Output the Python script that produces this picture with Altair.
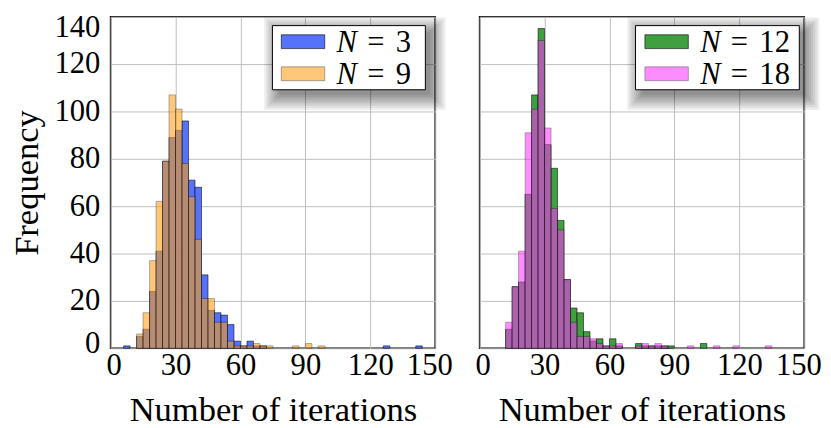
import altair as alt
import pandas as pd

# ---------------- data (counts per bin of width 3, bins start at 0) ----------------
bin_width = 3
n3 = [0, 0, 1, 0, 5, 8, 24, 41, 79, 89, 92, 96, 71, 68, 31, 16, 15, 14, 10, 3,
      1, 3, 1, 1, 0, 0, 0, 0, 0, 0, 0, 0, 0, 0, 0, 0, 0, 0, 0, 0,
      0, 0, 1, 0, 0, 0, 0, 1, 0, 0]
n9 = [0, 0, 0, 0, 6, 15, 37, 62, 79, 107, 101, 78, 64, 46, 21, 21, 11, 11, 3, 1,
      1, 1, 2, 1, 1, 0, 0, 0, 1, 0, 2, 0, 1, 0, 0, 0, 0, 0, 0, 0,
      0, 0, 0, 0, 0, 0, 0, 0, 0, 0]
n12 = [0, 0, 0, 0, 8, 26, 28, 65, 107, 135, 86, 76, 54, 29, 17, 15, 7, 3, 4, 1,
       4, 1, 0, 0, 2, 1, 1, 1, 1, 1, 0, 0, 0, 0, 2, 0, 0, 0, 0, 0,
       0, 0, 0, 0, 0, 0, 0, 0, 0, 0]
n18 = [0, 0, 0, 0, 11, 26, 41, 91, 101, 130, 93, 59, 50, 29, 11, 5, 5, 4, 2, 1,
       1, 2, 0, 0, 1, 2, 1, 2, 1, 0, 0, 0, 1, 0, 0, 0, 1, 0, 0, 1,
       0, 0, 0, 0, 1, 0, 0, 0, 0, 0]

left_names = ["3", "9"]
right_names = ["12", "18"]
x_ticks = [0, 30, 60, 90, 120, 150]
y_ticks = [0, 20, 40, 60, 80, 100, 120, 140]

# ---------------- styles ----------------
FONT = "Liberation Serif"
W, H = 329, 336
left_colors = ["#5572fa", "#ffa016"]
left_opac = [1.0, 0.58]
right_colors = ["#3ea03e", "#ff33ff"]
right_opac = [1.0, 0.56]


def hist_df(a, b, names):
    rows = []
    for name, counts in ((names[0], a), (names[1], b)):
        for i, c in enumerate(counts):
            if c > 0:
                rows.append({"series": name, "start": i * bin_width,
                             "end": (i + 1) * bin_width, "count": c})
    return pd.DataFrame(rows)


x_offset = {"condition": [{"test": "datum.value == 0", "value": 3},
                          {"test": "datum.value == 150", "value": -6}], "value": 0}
y_offset = {"condition": [{"test": "datum.value == 140", "value": -4},
                          {"test": "datum.value == 0", "value": -5}], "value": 0}
y_base = {"condition": {"test": "datum.value == 140", "value": "top"}, "value": "middle"}


def legend_layers(box, sw_x, text_x, names, colors, opac):
    x0, y0, x1, y1 = box
    dummy = alt.Chart(pd.DataFrame({"k": [0]}))
    layers = []
    for k in range(8):
        s = 2.2 * k
        layers.append(dummy.mark_rect(color="black", opacity=0.065).encode(
            x=alt.value(x0 + 7 - s), x2=alt.value(x1 + 5 + s),
            y=alt.value(y0 + 7 - s), y2=alt.value(y1 + 5 + s)))
    layers.append(dummy.mark_rect(fill="white", stroke="black", strokeWidth=1).encode(
        x=alt.value(x0), x2=alt.value(x1), y=alt.value(y0), y2=alt.value(y1)))
    row_c = [y0 + 16.3, y0 + 48.8]
    for r in range(2):
        layers.append(dummy.mark_rect(fill=colors[r], opacity=opac[r], stroke="black",
                                      strokeOpacity=0.6, strokeWidth=1).encode(
            x=alt.value(sw_x), x2=alt.value(sw_x + 44),
            y=alt.value(row_c[r] - 7), y2=alt.value(row_c[r] + 7)))
        base = row_c[r] + 10
        layers.append(dummy.mark_text(text="N", font=FONT, fontStyle="italic", fontSize=31,
                                      align="left", baseline="alphabetic", color="black").encode(
            x=alt.value(text_x), y=alt.value(base)))
        layers.append(dummy.mark_text(text="=", font=FONT, fontSize=31,
                                      align="left", baseline="alphabetic", color="black").encode(
            x=alt.value(text_x + 31), y=alt.value(base)))
        layers.append(dummy.mark_text(text=names[r], font=FONT, fontSize=31,
                                      align="left", baseline="alphabetic", color="black").encode(
            x=alt.value(text_x + 60), y=alt.value(base)))
    return layers


def panel(a, b, names, colors, opac, show_y, box, sw_x, text_x):
    df = hist_df(a, b, names)
    xs = alt.Scale(domain=[0, 150], nice=False, zero=False)
    ys = alt.Scale(domain=[0, 140], nice=False)
    xaxis = alt.Axis(values=x_ticks, title="Number of iterations", grid=True,
                     labelFlush=False, labelOverlap=False, labelPadding=3,
                     titlePadding=12, labelOffset=x_offset)
    if show_y:
        yaxis = alt.Axis(values=y_ticks, title="Frequency", grid=True, labelOverlap=False,
                         labelPadding=11, titlePadding=10, labelOffset=y_offset,
                         labelBaseline=y_base)
    else:
        yaxis = alt.Axis(values=y_ticks, title=None, grid=True, labels=False)
    bars = alt.Chart(df).mark_bar(stroke="black", strokeOpacity=0.55, strokeWidth=1).encode(
        x=alt.X("start:Q", scale=xs, axis=xaxis),
        x2="end:Q",
        y=alt.Y("count:Q", scale=ys, axis=yaxis),
        y2=alt.datum(0),
        color=alt.Color("series:N", scale=alt.Scale(domain=names, range=colors), legend=None),
        opacity=alt.Opacity("series:O", scale=alt.Scale(domain=names, range=opac), legend=None),
    )
    return alt.layer(bars, *legend_layers(box, sw_x, text_x, names, colors, opac)).properties(
        width=W, height=H)


left = panel(n3, n9, left_names, left_colors, left_opac, True,
             (164, 9, 319, 74), 173, 229)
right = panel(n12, n18, right_names, right_colors, right_opac, False,
              (158, 9, 324, 74), 167.5, 223.5)

chart = alt.hconcat(left, right, spacing=45, bounds="flush").resolve_scale(
    color="independent", opacity="independent"
).properties(
    padding={"left": 0, "top": 0, "right": 0, "bottom": 0}
).configure_axis(
    labelFont=FONT, labelFontSize=31, titleFont=FONT, titleFontSize=35,
    titleFontWeight="normal", labelColor="black", titleColor="black",
    gridColor="#bfbfbf", gridWidth=1, domain=False, ticks=False, tickSize=0,
).configure_view(stroke="black", strokeWidth=1.6)

chart.save("out.html", embed_options={"renderer": "svg", "actions": False})
